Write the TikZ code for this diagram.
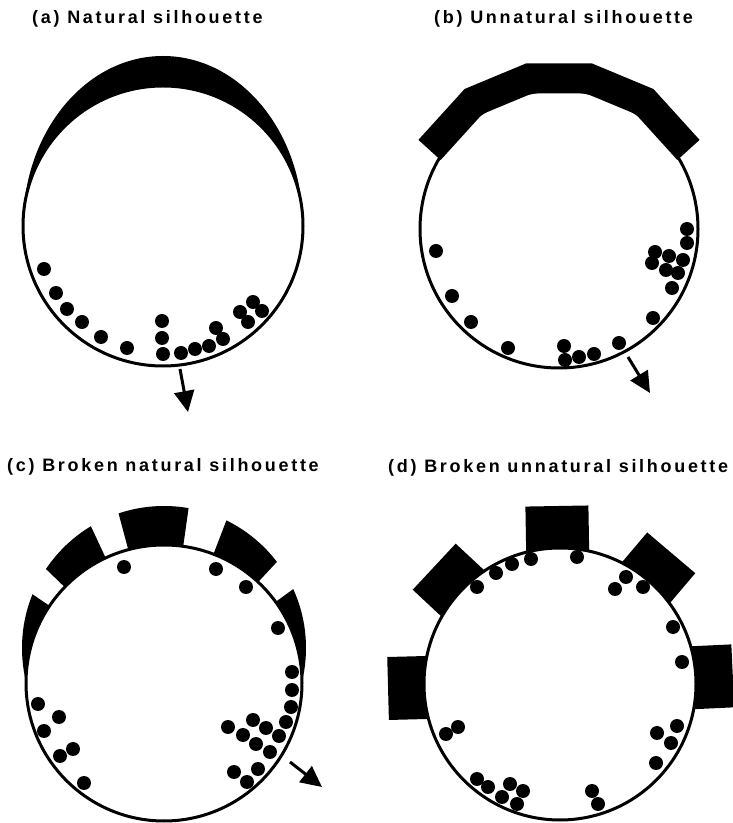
\documentclass[tikz,border=0pt]{standalone}
\usepackage{fontspec}
\newfontfamily\titlefont[LetterSpace=15]{Liberation Sans}
\usetikzlibrary{arrows.meta,calc}

\tikzset{
	rim/.style={line width=3pt},
	grain/.style={fill=black},
	drift/.style={line width=3pt,-{Triangle[width=20pt,length=21pt]}},
	caption/.style={anchor=base west,inner sep=0pt,font=\titlefont\bfseries\fontsize{18}{21}\selectfont},
}

\begin{document}
\begin{tikzpicture}[x=1pt,y=1pt]
		
		\useasboundingbox (0,0) rectangle (733,823);
		
		% (a) natural
		\node[caption] (a-title) at (32,799) {(a) Natural silhouette};
		\coordinate (a-c) at (163,597);
		\begin{scope}
			\clip (0,597) rectangle (366,823);
			\fill (a-c) ellipse [x radius=140, y radius=170];
		\end{scope}
		\filldraw[rim,fill=white] (a-c) circle (140);
		\foreach \p in {(44,554),(56,530),(67,514),(82,501),(101,486),(127,475),
			(162,502),(162,485),(163,469),(181,470),(195,474),(209,477),
			(216,495),(223,484),(240,511),(253,521),(262,512),(248,501)}
			\fill[grain] \p circle (7);
		\coordinate (a-from) at (180,454);
		\coordinate (a-to) at (188,411);
		\draw[drift] (a-from) -- (a-to);
		
		% (b) unnatural
		\node[caption] (b-title) at (434,799) {(b) Unnatural silhouette};
		\coordinate (b-c) at (559,594);
		\draw[rim] (b-c) circle (139);
		\begin{scope}[shift={(b-c)}]
			\draw[line width=30pt,line join=miter] (148.6:151.7) -- (123.9:153.5) -- (101.3:153.5)
			-- (78.7:153.5) -- (56.1:153.5) -- (31.4:151.7);
		\end{scope}
		\foreach \p in {(436,572),(452,527),(471,501),(508,475),(564,477),(565,463),
			(579,466),(594,469),(619,480),(653,505),(672,535),(655,571),(652,560),
			(669,567),(683,563),(666,553),(678,550),(687,580),(687,594)}
			\fill[grain] \p circle (7);
		\coordinate (b-from) at (628,466);
		\coordinate (b-to) at (650,430);
		\draw[drift] (b-from) -- (b-to);
		
		% (c) broken natural
		\node[caption] (c-title) at (7,351) {(c) Broken natural silhouette};
		\coordinate (c-c) at (164,140);
		\coordinate (c-o) at (164,175);
		\foreach \from/\to in {2/36,47/69,82/105,115/136,146/178}{
			\begin{scope}
				\clip (c-c) -- ++(\from:200) arc[start angle=\from,end angle=\to,radius=200] -- cycle;
				\fill (c-o) circle (142);
			\end{scope}
		}
		\filldraw[rim,fill=white] (c-c) circle (138);
		\foreach \p in {(124,256),(216,254),(246,236),(278,195),(292,151),(292,133),
			(291,116),(286,101),(279,87),(270,71),(258,54),(247,41),(234,51),(256,79),
			(243,88),(228,96),(253,103),(266,95),(38,119),(59,106),(44,92),(73,74),
			(60,67),(84,40)}
			\fill[grain] \p circle (7);
		\coordinate (c-from) at (290,61);
		\coordinate (c-to) at (322,36);
		\draw[drift] (c-from) -- (c-to);
		
		% (d) broken unnatural
		\node[caption] (d-title) at (388,350) {(d) Broken unnatural silhouette};
		\coordinate (d-c) at (560,139);
		\foreach \ang/\reach in {181.5/172,137/172,91/178,49.7/172,2.7/173}
			\fill[shift={(d-c)},rotate=\ang] (100,-31.5) rectangle (\reach,31.5);
		\filldraw[rim,fill=white] (d-c) circle (136);
		\foreach \p in {(477,236),(496,250),(512,259),(531,264),(577,266),(626,246),
			(615,234),(643,236),(673,196),(682,161),(677,97),(657,90),(671,80),(656,60),
			(458,96),(446,89),(477,44),(488,36),(502,26),(510,39),(523,32),(517,19),
			(592,32),(598,19)}
			\fill[grain] \p circle (7);
		
\end{tikzpicture}
\end{document}
